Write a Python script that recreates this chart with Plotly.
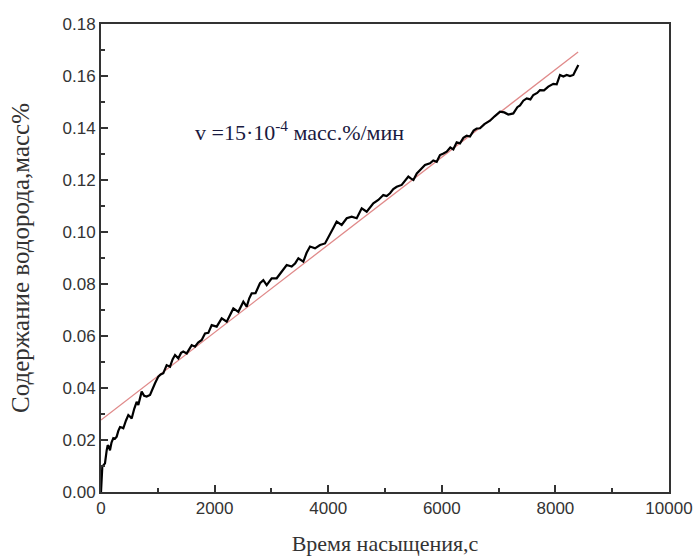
import plotly.graph_objects as go

time_s = [0, 10, 23, 50, 70, 100, 118, 140, 158, 185, 217, 245, 276, 305, 335, 365, 393, 440, 481, 510,
          540, 585, 628, 657, 690, 716, 760, 804, 863, 910, 951, 1009, 1050, 1097, 1156, 1215, 1260, 1303,
          1361, 1410, 1449, 1509, 1550, 1597, 1655, 1710, 1773, 1831, 1890, 1949, 2037, 2125, 2213, 2270,
          2330, 2418, 2506, 2565, 2610, 2653, 2720, 2799, 2858, 2917, 3005, 3093, 3181, 3269, 3357, 3420,
          3475, 3562, 3620, 3680, 3768, 3856, 3944, 4032, 4090, 4149, 4237, 4326, 4413, 4502, 4590, 4678,
          4740, 4794, 4882, 4970, 5030, 5088, 5146, 5206, 5294, 5350, 5411, 5460, 5500, 5560, 5616, 5704,
          5792, 5850, 5910, 5968, 6030, 6086, 6150, 6203, 6262, 6320, 6380, 6438, 6496, 6560, 6614, 6673,
          6750, 6849, 6930, 7025, 7100, 7171, 7259, 7330, 7377, 7435, 7495, 7560, 7611, 7680, 7729, 7800,
          7875, 7963, 8023, 8081, 8140, 8199, 8257, 8316, 8345, 8404]
hydrogen = [0, 0.004, 0.0097, 0.0105, 0.011, 0.016, 0.018, 0.0175, 0.016, 0.019, 0.0207, 0.0205, 0.0213,
            0.0235, 0.025, 0.0248, 0.0245, 0.0275, 0.0296, 0.029, 0.0283, 0.032, 0.0347, 0.0335, 0.037,
            0.0386, 0.037, 0.0367, 0.0373, 0.040, 0.0418, 0.0444, 0.0452, 0.0457, 0.0488, 0.0482, 0.051,
            0.0527, 0.0514, 0.0535, 0.054, 0.0533, 0.055, 0.0565, 0.0559, 0.0575, 0.0585, 0.061, 0.0612,
            0.0642, 0.0636, 0.0668, 0.0655, 0.068, 0.0706, 0.0693, 0.0732, 0.0713, 0.0745, 0.0764, 0.0765,
            0.0803, 0.0815, 0.0796, 0.0822, 0.0822, 0.0847, 0.0873, 0.0867, 0.088, 0.0899, 0.0886, 0.092,
            0.0944, 0.0937, 0.095, 0.0956, 0.0995, 0.1015, 0.104, 0.1027, 0.1053, 0.1059, 0.1053, 0.1091,
            0.1078, 0.1095, 0.111, 0.1123, 0.1142, 0.1138, 0.1149, 0.1165, 0.1174, 0.1181, 0.1195, 0.1213,
            0.1205, 0.120, 0.1225, 0.1238, 0.1258, 0.1264, 0.1275, 0.127, 0.1296, 0.1302, 0.1309, 0.1325,
            0.1318, 0.1345, 0.1341, 0.1362, 0.137, 0.1367, 0.139, 0.1398, 0.1399, 0.1415, 0.1428, 0.1445,
            0.1463, 0.146, 0.1452, 0.1456, 0.148, 0.1487, 0.1505, 0.1514, 0.151, 0.1527, 0.1535, 0.1546,
            0.1545, 0.1559, 0.157, 0.1568, 0.1604, 0.1598, 0.1604, 0.160, 0.1604, 0.1617, 0.1642]

fit_x = [0, 8400]
fit_y = [0.0277, 0.1692]

x_ticks = [0, 2000, 4000, 6000, 8000, 10000]
y_ticks = [0.00, 0.02, 0.04, 0.06, 0.08, 0.10, 0.12, 0.14, 0.16, 0.18]

SERIF = "Liberation Serif, Times New Roman, serif"

fig = go.Figure()
fig.add_trace(go.Scatter(x=fit_x, y=fit_y, mode="lines",
                         line=dict(color="#e08a8a", width=1.3), showlegend=False))
fig.add_trace(go.Scatter(x=time_s, y=hydrogen, mode="lines",
                         line=dict(color="#000000", width=2.2), showlegend=False))

axis_common = dict(
    showgrid=False, zeroline=False, showline=True, linecolor="#333333", linewidth=2,
    mirror=True, ticks="inside", ticklen=7, tickwidth=1.5, tickcolor="#333333", automargin=False,
    ticklabeloverflow="allow",
    tickfont=dict(family="Liberation Sans, Arial", size=17, color="#333333"),
)

fig.update_xaxes(range=[0, 10000], tickvals=x_ticks, ticktext=[str(v) for v in x_ticks],
                 minor=dict(ticks="inside", ticklen=4, tickwidth=1.5, tickcolor="#333333", dtick=1000),
                 title=dict(text="Время насыщения,с", standoff=18,
                            font=dict(family=SERIF, size=22, color="#333333")),
                 **axis_common)
fig.update_yaxes(range=[0, 0.18], tickvals=y_ticks, ticktext=[f"{v:.2f}" for v in y_ticks],
                 minor=dict(ticks="inside", ticklen=4, tickwidth=1.5, tickcolor="#333333", dtick=0.01),
                 title=dict(text="Содержание водорода,масс%", standoff=26,
                            font=dict(family=SERIF, size=25, color="#333333")),
                 **axis_common)

fig.add_annotation(x=3500, y=0.139, xref="x", yref="y", showarrow=False,
                   text="v =15·10<sup>-4</sup> масс.%/мин",
                   font=dict(family=SERIF, size=22, color="#1a1a40"))

fig.update_layout(width=693, height=558, margin=dict(l=101, r=24, t=24, b=66),
                  paper_bgcolor="white", plot_bgcolor="white")

fig.write_html("out.html", config={"displayModeBar": False},
               post_script="document.body.style.margin='0';document.body.style.overflow='hidden';")
